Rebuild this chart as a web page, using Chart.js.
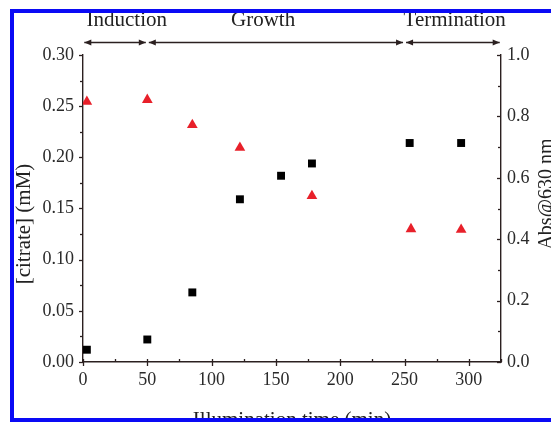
<!DOCTYPE html>
<html>
<head>
<meta charset="utf-8">
<script src="https://cdn.jsdelivr.net/npm/chart.js@4/dist/chart.umd.min.js"></script>
<style>
  html, body { margin: 0; padding: 0; background: #fff; overflow: hidden; }
  #wrap { position: relative; width: 551px; height: 422px; overflow: hidden; }
  #c { position: absolute; left: 0; top: 0; }
  #frame {
    position: absolute; left: 10px; top: 9px; width: 620px; height: 413px;
    box-sizing: border-box; border: 4px solid #0a0af5; pointer-events: none;
  }
</style>
</head>
<body>
<div id="wrap">
  <canvas id="c" width="551" height="422"></canvas>
  <div id="frame"></div>
</div>
<script>
// Illumination time (min) for each sample
const timeCitrate = [3, 50, 85, 122, 154, 178, 254, 294];
const citrate     = [0.012, 0.022, 0.068, 0.159, 0.182, 0.194, 0.214, 0.214];

const timeAbs = [3, 50, 85, 122, 178, 255, 294];
const abs630  = [0.848, 0.854, 0.772, 0.698, 0.541, 0.433, 0.431];

// Reaction stages shown above the plot: [start, end] in minutes
const stageNames  = ['Induction', 'Growth', 'Termination'];
const stageRanges = [[1, 50], [50, 250], [250, 324]];
const stageLabelAt = [34, 140, 289];

const FONT = '"Liberation Serif", "Times New Roman", serif';
const AXIS = '#2b2020';
const TEXT = '#2a2a2a';

function toPoints(xs, ys) { return xs.map((x, i) => ({ x: x, y: ys[i] })); }

// tick marks, stage arrows and axis titles
const decor = {
  id: 'decor',
  afterDraw(chart) {
    const ctx = chart.ctx;
    const { x, y, y1 } = chart.scales;
    const ca = chart.chartArea;
    ctx.save();
    ctx.strokeStyle = AXIS;
    ctx.lineWidth = 1.3;

    // bottom axis ticks
    for (let v = 0; v <= 325; v += 25) {
      const px = Math.round(x.getPixelForValue(v)) + 0.5;
      ctx.beginPath();
      if (v % 50 === 0) { ctx.moveTo(px, ca.bottom - 3); ctx.lineTo(px, ca.bottom + 4); }
      else { ctx.moveTo(px, ca.bottom - 3); ctx.lineTo(px, ca.bottom); }
      ctx.stroke();
    }
    // left axis ticks
    for (let k = 0; k <= 12; k++) {
      const v = k * 0.025;
      const py = Math.round(y.getPixelForValue(v)) + 0.5;
      ctx.beginPath();
      ctx.moveTo(ca.left - (k % 2 === 0 ? 4 : 3), py); ctx.lineTo(ca.left, py);
      ctx.stroke();
    }
    // right axis ticks (inward)
    for (let k = 0; k <= 10; k++) {
      const v = k * 0.1;
      const py = Math.round(y1.getPixelForValue(v)) + 0.5;
      ctx.beginPath();
      ctx.moveTo(ca.right - (k % 2 === 0 ? 4 : 3), py); ctx.lineTo(ca.right, py);
      ctx.stroke();
    }

    // stage arrows
    const ay = 42.5;
    ctx.fillStyle = AXIS;
    ctx.lineWidth = 1.4;
    function head(tip, dir) {
      ctx.beginPath();
      ctx.moveTo(tip, ay);
      ctx.lineTo(tip - dir * 7, ay - 3);
      ctx.lineTo(tip - dir * 7, ay + 3);
      ctx.closePath();
      ctx.fill();
    }
    stageRanges.forEach((r, i) => {
      const a = x.getPixelForValue(r[0]) + (i === 0 ? 0 : 1.5);
      const b = x.getPixelForValue(r[1]) - (i === stageRanges.length - 1 ? 0 : 1.5);
      ctx.beginPath(); ctx.moveTo(a, ay); ctx.lineTo(b, ay); ctx.stroke();
      head(a, -1); head(b, 1);
    });

    // stage names
    ctx.fillStyle = '#222';
    ctx.font = '21px ' + FONT;
    ctx.textAlign = 'center';
    ctx.textBaseline = 'alphabetic';
    stageNames.forEach((n, i) => ctx.fillText(n, x.getPixelForValue(stageLabelAt[i]), 25.5));

    // axis titles
    ctx.fillStyle = '#222';
    ctx.font = '21px ' + FONT;
    ctx.fillText('Illumination time (min)', (ca.left + ca.right) / 2, 426);

    ctx.save();
    ctx.translate(24, 224);
    ctx.rotate(-Math.PI / 2);
    ctx.textBaseline = 'middle';
    ctx.fillText('[citrate] (mM)', 0, 0);
    ctx.restore();

    ctx.save();
    ctx.translate(547, 194);
    ctx.rotate(-Math.PI / 2);
    ctx.textBaseline = 'middle';
    ctx.font = '20px ' + FONT;
    ctx.fillText('Abs@630 nm', 0, 0);
    ctx.restore();

    ctx.restore();
  }
};

new Chart(document.getElementById('c'), {
  type: 'scatter',
  data: {
    datasets: [
      {
        label: '[citrate]',
        data: toPoints(timeCitrate, citrate),
        yAxisID: 'y',
        pointStyle: 'rect',
        pointRadius: 5.6,
        backgroundColor: '#000',
        borderColor: '#000',
        borderWidth: 0
      },
      {
        label: 'Abs@630 nm',
        data: toPoints(timeAbs, abs630),
        yAxisID: 'y1',
        pointStyle: 'triangle',
        pointRadius: 6.2,
        backgroundColor: '#e8202a',
        borderColor: '#e8202a',
        borderWidth: 0
      }
    ]
  },
  options: {
    responsive: false,
    animation: false,
    layout: { padding: { top: 55, left: 0, right: 0, bottom: 0 } },
    plugins: { legend: { display: false }, tooltip: { enabled: false } },
    scales: {
      x: {
        type: 'linear', min: 0, max: 325,
        grid: { display: true, drawOnChartArea: false, drawTicks: false },
        border: { display: true, color: AXIS, width: 1.4 },
        ticks: { stepSize: 50, includeBounds: false, padding: 7, color: TEXT,
                 font: { family: FONT, size: 18 }, maxRotation: 0 },
        afterFit(s) { s.height = 60; }
      },
      y: {
        type: 'linear', position: 'left', min: 0, max: 0.30,
        grid: { display: true, drawOnChartArea: false, drawTicks: false },
        border: { display: true, color: AXIS, width: 1.4 },
        ticks: { stepSize: 0.05, padding: 9, color: TEXT,
                 font: { family: FONT, size: 18 },
                 callback: v => v.toFixed(2) },
        afterFit(s) { s.width = 83; }
      },
      y1: {
        type: 'linear', position: 'right', min: 0, max: 1.0,
        grid: { display: true, drawOnChartArea: false, drawTicks: false },
        border: { display: true, color: AXIS, width: 1.4 },
        ticks: { stepSize: 0.2, padding: 6, color: TEXT,
                 font: { family: FONT, size: 18 },
                 callback: v => v.toFixed(1) },
        afterFit(s) { s.width = 50; }
      }
    }
  },
  plugins: [decor]
});
</script>
</body>
</html>
